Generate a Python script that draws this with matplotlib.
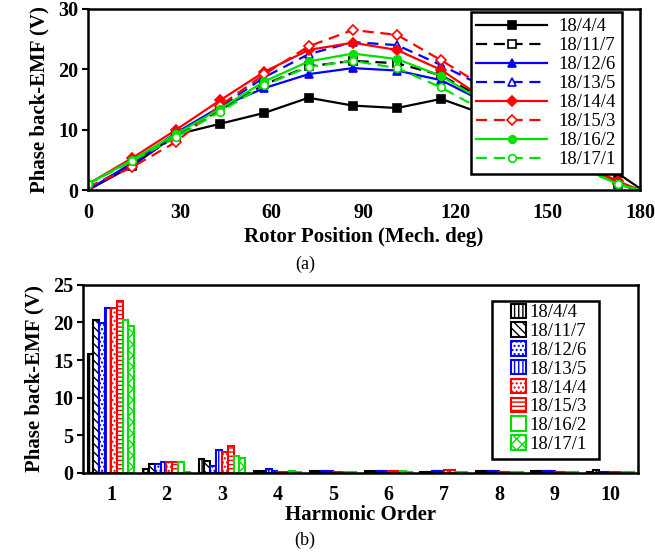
import matplotlib
matplotlib.use("Agg")
import matplotlib.pyplot as plt
import matplotlib.patches as mpatches
import numpy as np

plt.rcParams['font.family'] = ['Liberation Serif', 'DejaVu Serif']

# 上圖: 轉子位置 vs 相反電動勢
angle = [0, 14.4, 28.8, 43.2, 57.6, 72, 86.4, 100.8, 115.2, 129.6, 144, 158.4, 172.8, 180]
emf_18_4_4 = [0.0, 4.0, 9.2, 11.0, 12.8, 15.3, 14.0, 13.6, 15.1, 12.5, 8.8, 5.2, 2.8, 0.3]
emf_18_11_7 = [0.3, 4.2, 9.0, 13.3, 17.5, 20.5, 21.4, 21.0, 19.0, 15.0, 10.0, 5.0, 1.0, 0.0]
emf_18_12_6 = [0.0, 4.5, 9.5, 13.8, 16.9, 19.2, 20.2, 19.8, 18.2, 14.5, 10.0, 5.0, 1.2, 0.0]
emf_18_13_5 = [0.0, 4.2, 9.0, 13.8, 18.7, 22.5, 24.5, 24.0, 20.7, 17.0, 11.0, 5.5, 1.0, 0.0]
emf_18_14_4 = [1.0, 5.3, 10.0, 14.9, 19.6, 23.2, 24.4, 23.2, 19.9, 15.0, 10.0, 5.0, 1.5, 0.0]
emf_18_15_3 = [0.5, 3.8, 8.0, 14.0, 19.2, 23.8, 26.5, 25.7, 21.5, 17.0, 11.0, 5.5, 1.0, 0.0]
emf_18_16_2 = [1.0, 5.0, 9.3, 13.5, 18.0, 21.3, 22.6, 21.7, 18.9, 14.5, 9.5, 4.5, 1.0, 0.0]
emf_18_17_1 = [1.0, 4.8, 8.8, 13.0, 17.4, 20.4, 21.4, 20.2, 17.0, 13.0, 8.5, 4.0, 1.1, 0.0]

# 下圖: 諧波分析
order = [1, 2, 3, 4, 5, 6, 7, 8, 9, 10]
h_18_4_4 = [15.8, 0.5, 1.9, 0.2, 0.2, 0.2, 0.1, 0.25, 0.25, 0.05]
h_18_11_7 = [20.3, 1.2, 1.6, 0.2, 0.2, 0.2, 0.1, 0.25, 0.25, 0.4]
h_18_12_6 = [19.9, 1.15, 0.9, 0.45, 0.2, 0.2, 0.25, 0.2, 0.2, 0.1]
h_18_13_5 = [21.9, 1.5, 3.1, 0.2, 0.2, 0.2, 0.25, 0.2, 0.2, 0.1]
h_18_14_4 = [21.9, 1.4, 2.8, 0.1, 0.1, 0.3, 0.35, 0.1, 0.1, 0.1]
h_18_15_3 = [22.8, 1.5, 3.6, 0.1, 0.1, 0.3, 0.35, 0.1, 0.1, 0.1]
h_18_16_2 = [20.3, 1.4, 2.25, 0.25, 0.15, 0.2, 0.1, 0.1, 0.1, 0.1]
h_18_17_1 = [19.5, 0.1, 2.0, 0.1, 0.15, 0.1, 0.1, 0.1, 0.1, 0.1]

labels = ['18/4/4', '18/11/7', '18/12/6', '18/13/5', '18/14/4', '18/15/3', '18/16/2', '18/17/1']
colors = ['black', 'black', 'blue', 'blue', 'red', 'red', '#00e000', '#00e000']

fig = plt.figure(figsize=(6.55, 5.53), dpi=100)

# ---- (a) ----
ax1 = fig.add_axes([0.134, 0.656, 0.843, 0.328])
series = [emf_18_4_4, emf_18_11_7, emf_18_12_6, emf_18_13_5,
          emf_18_14_4, emf_18_15_3, emf_18_16_2, emf_18_17_1]
markers = ['s', 's', '^', '^', 'D', 'D', 'o', 'o']
for i, y in enumerate(series):
    solid = (i % 2 == 0)
    ax1.plot(angle, y, color=colors[i], lw=1.6,
             ls='-' if solid else (0, (5, 3)),
             marker=markers[i], ms=5.5 if markers[i] != 'D' else 5,
             mfc=colors[i] if solid else 'white', mec=colors[i], mew=1.2,
             markevery=list(range(13)), label=labels[i])
ax1.set_xlim(0, 180)
ax1.set_ylim(0, 30)
ax1.set_xticks(range(0, 181, 30))
ax1.set_yticks([0, 10, 20, 30])
ax1.tick_params(axis='x', length=0, pad=9, labelsize=14.5)
ax1.tick_params(axis='y', direction='out', length=4, width=1.5, labelsize=14.5, pad=3)
for lab in ax1.get_xticklabels() + ax1.get_yticklabels():
    lab.set_fontweight('bold')
for s in ax1.spines.values():
    s.set_linewidth(1.8)
ax1.set_xlabel('Rotor Position (Mech. deg)', fontsize=15, fontweight='bold', labelpad=3)
ax1.set_ylabel('Phase back-EMF (V)', fontsize=15, fontweight='bold', labelpad=6)
leg1 = ax1.legend(loc='upper right', bbox_to_anchor=(0.967, 0.98), fontsize=13.5,
                  handlelength=3.8, labelspacing=0.1, borderpad=0.3, handletextpad=0.6,
                  fancybox=False, framealpha=1, edgecolor='black', borderaxespad=0)
leg1.get_frame().set_linewidth(1.8)
fig.text(0.466, 0.522, '(a)', ha='center', va='center', fontsize=13)

# ---- (b) ----
ax2 = fig.add_axes([0.127, 0.145, 0.847, 0.34])
hseries = [h_18_4_4, h_18_11_7, h_18_12_6, h_18_13_5,
           h_18_14_4, h_18_15_3, h_18_16_2, h_18_17_1]
hatches = ['||||', '\\\\\\\\', '....', '||||', '....', '----', '', 'xxx']
w = 0.105
x = np.array(order)
for i, h in enumerate(hseries):
    ax2.bar(x + (i - 3.5) * w, h, width=w, facecolor='white', edgecolor=colors[i],
            hatch=hatches[i], linewidth=1.5, label=labels[i])
ax2.set_xlim(0.5, 10.5)
ax2.set_ylim(0, 25)
ax2.set_xticks(order)
ax2.set_yticks([0, 5, 10, 15, 20, 25])
ax2.tick_params(axis='x', length=0, pad=9, labelsize=14.5)
ax2.tick_params(axis='y', direction='out', length=4, width=1.5, labelsize=14.5, pad=3)
for lab in ax2.get_xticklabels() + ax2.get_yticklabels():
    lab.set_fontweight('bold')
for s in ax2.spines.values():
    s.set_linewidth(1.8)
ax2.set_xlabel('Harmonic Order', fontsize=15, fontweight='bold', labelpad=0)
ax2.set_ylabel('Phase back-EMF (V)', fontsize=15, fontweight='bold', labelpad=6)
# 圖例外框另外畫, 左側留白較大
box = mpatches.Rectangle((0.737, 0.074), 0.193, 0.841, transform=ax2.transAxes,
                         facecolor='white', edgecolor='black', lw=1.8, zorder=4)
ax2.add_patch(box)
leg2 = ax2.legend(loc='upper left', bbox_to_anchor=(0.768, 0.91), fontsize=13.5,
                  handlelength=0.8, handleheight=0.8, labelspacing=0.06, borderpad=0.1,
                  handletextpad=0.2, frameon=False, borderaxespad=0)
leg2.set_zorder(5)
fig.text(0.466, 0.023, '(b)', ha='center', va='center', fontsize=13)

fig.savefig('out.png', dpi=100)
